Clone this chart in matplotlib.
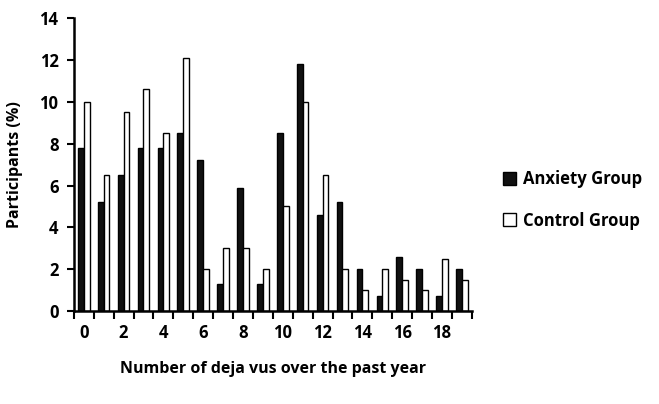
# import packages
import numpy as np
import matplotlib.pyplot as plt

# data
categories = list(range(20))
anxiety = [7.8, 5.2, 6.5, 7.8, 7.8, 8.5, 7.2, 1.3, 5.9, 1.3,
           8.5, 11.8, 4.6, 5.2, 2.0, 0.7, 2.6, 2.0, 0.7, 2.0]
control = [10.0, 6.5, 9.5, 10.6, 8.5, 12.1, 2.0, 3.0, 3.0, 2.0,
           5.0, 10.0, 6.5, 2.0, 1.0, 2.0, 1.5, 1.0, 2.5, 1.5]
tick_labels = [str(c) for c in categories[::2]]
y_ticks = [0, 2, 4, 6, 8, 10, 12, 14]

plt.rcParams['font.family'] = ['Open Sans', 'DejaVu Sans']
plt.rcParams['font.weight'] = 'bold'

# create figure
fig = plt.figure(figsize=(6.59, 4.04), dpi=100)
ax = fig.add_axes([0.112, 0.230, 0.604, 0.725])

x = np.arange(len(categories))
width = 0.29

ax.bar(x - width / 2, anxiety, width, color='#111111', edgecolor='black',
       linewidth=1.0, label='Anxiety Group')
ax.bar(x + width / 2, control, width, color='white', edgecolor='black',
       linewidth=1.0, label='Control Group')

# axes styling
ax.set_xlim(-0.5, len(categories) - 0.5)
ax.set_ylim(0, 14)
ax.set_yticks(y_ticks)
ax.tick_params(axis='y', labelsize=12, width=1.5, length=5, direction='out',
               pad=6)
ax.set_xticks(x[::2])
ax.set_xticklabels(tick_labels)
ax.tick_params(axis='x', labelsize=12, length=0, pad=9)
# category boundary tick marks
ax.set_xticks(np.arange(-0.5, len(categories), 1.0), minor=True)
ax.tick_params(axis='x', which='minor', length=6, width=1.5, direction='out')

for side in ['top', 'right']:
    ax.spines[side].set_visible(False)
for side in ['left', 'bottom']:
    ax.spines[side].set_linewidth(1.8)

ax.set_xlabel('Number of deja vus over the past year', fontsize=11.5,
              fontweight='bold', labelpad=14)
ax.set_ylabel('Participants (%)', fontsize=11.5, fontweight='bold',
              labelpad=12)

# legend on the right
ax.legend(loc='center left', bbox_to_anchor=(0.74, 0.505),
          bbox_transform=fig.transFigure, frameon=False, fontsize=12,
          handlelength=0.8, handleheight=0.8, handletextpad=0.45,
          labelspacing=1.4)

fig.savefig('out.png', dpi=100)
